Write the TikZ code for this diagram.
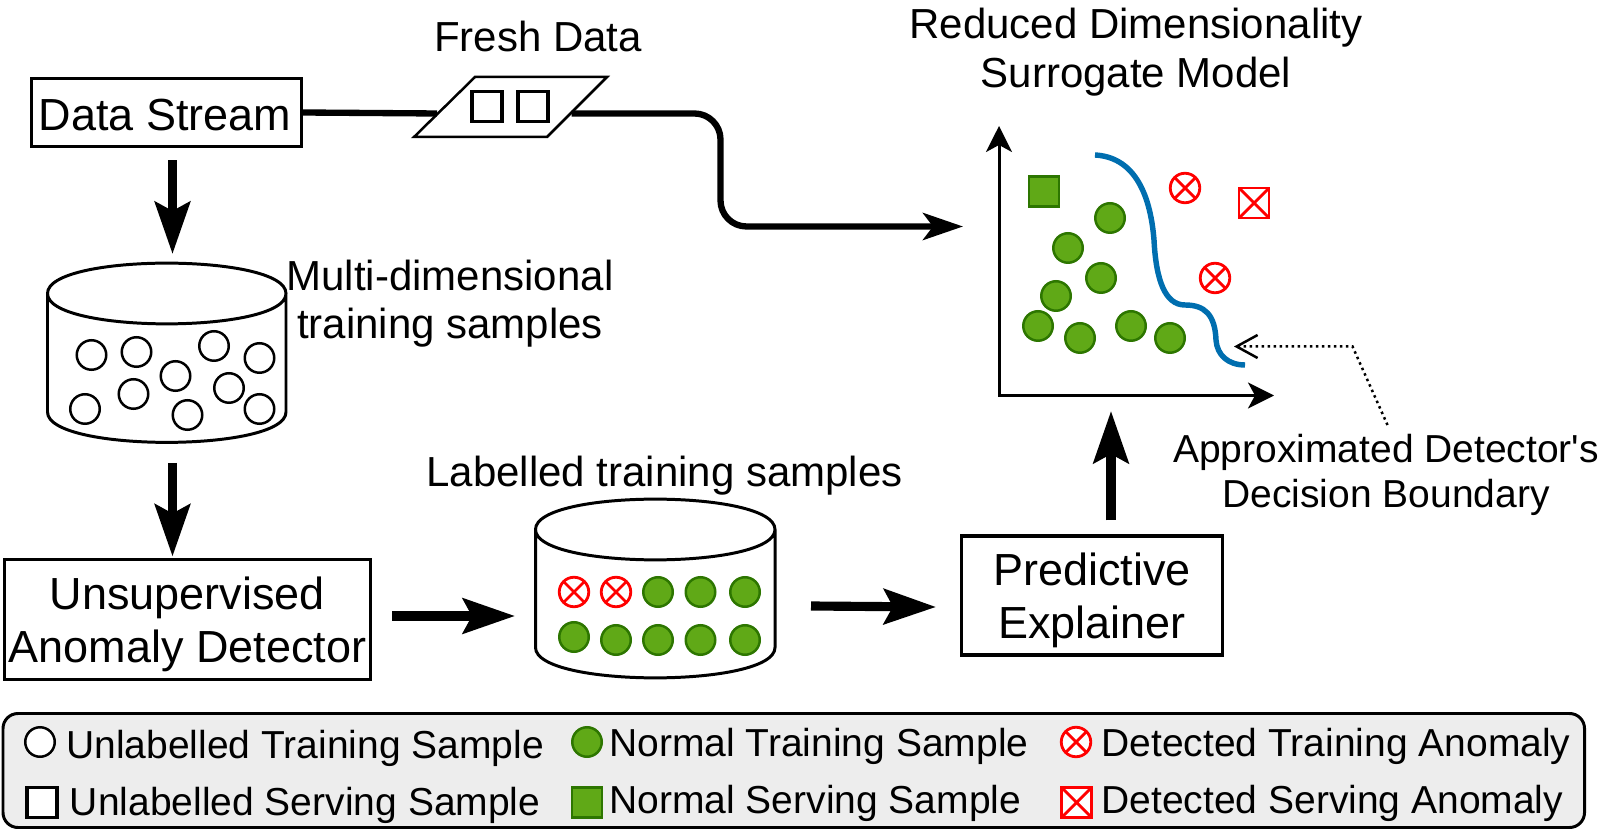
\documentclass[tikz,border=0pt]{standalone}
\usepackage{fontspec}
\setmainfont{Liberation Sans}
\usepackage{xcolor}
\usepackage{tikz}
\usetikzlibrary{arrows.meta}
\pgfdeclarelayer{edgelayer}
\pgfdeclarelayer{nodelayer}
\pgfsetlayers{edgelayer,nodelayer,main}
\definecolor{sampfill}{HTML}{60A917}
\definecolor{sampline}{HTML}{2D7600}
\definecolor{curveblue}{HTML}{006EAF}
\tikzstyle{none}=[inner sep=0pt]
\tikzstyle{boxtext}=[font=\fontsize{25.6}{30.4}\selectfont]
\tikzstyle{labeltext}=[inner sep=0pt, align=center, font=\fontsize{23.9}{27.7}\selectfont]
\tikzstyle{smalltext}=[inner sep=0pt, align=center, font=\fontsize{22.2}{25.6}\selectfont]
\tikzstyle{legendtext}=[inner sep=0pt, anchor=base west, font=\fontsize{22.2}{25.6}\selectfont]
\tikzstyle{stepbox}=[style=boxtext, draw, line width=1.9pt, inner sep=0pt, align=center]
\tikzstyle{tankline}=[line width=1.7pt]
\tikzstyle{whitecircle}=[draw, circle, line width=1.42pt, minimum size=0.59cm, inner sep=0pt]
\tikzstyle{greencircle}=[style=whitecircle, draw=sampline, fill=sampfill]
\tikzstyle{whitesquare}=[draw, rectangle, line width=1.9pt, minimum size=0.6cm, inner sep=0pt]
\tikzstyle{greensquare}=[style=whitesquare, line width=1.42pt, draw=sampline, fill=sampfill]
\tikzstyle{crossed}=[draw=red, line width=1.6pt, path picture={\draw [red, line width=1.6pt] (path picture bounding box.south west) to (path picture bounding box.north east) (path picture bounding box.north west) to (path picture bounding box.south east);}]
\tikzstyle{redcircle}=[style=whitecircle, style=crossed]
\tikzstyle{redsquare}=[style=whitesquare, style=crossed]
\tikzstyle{legendbox}=[draw, rectangle, rounded corners=0.3cm, line width=1.7pt, fill=black!7, minimum width=31.63cm, minimum height=2.28cm, inner sep=0pt]
\tikzstyle{fatarrow}=[line width=5.2pt, -{Stealth[length=1.04cm, width=0.7cm, inset=0.18cm]}]
\tikzstyle{streamline}=[line width=3.6pt, rounded corners=0.52cm]
\tikzstyle{streamarrow}=[style=streamline, -{Stealth[length=0.8cm, width=0.54cm, inset=0.2cm]}]
\tikzstyle{axisline}=[line width=1.7pt, {Stealth[length=0.52cm, width=0.52cm, inset=0.14cm]}-{Stealth[length=0.52cm, width=0.52cm, inset=0.14cm]}]
\tikzstyle{boundary}=[line width=3.1pt, draw=curveblue]
\tikzstyle{dotarrow}=[line width=1.42pt, dotted, -{Straight Barb[length=0.42cm, width=0.46cm]}]

\begin{document}
\begin{tikzpicture}
	\useasboundingbox (0, 0) rectangle (32.28, 16.74);
	\begin{pgfonlayer}{nodelayer}
		\node [style=stepbox, minimum width=5.39cm, minimum height=1.36cm] (0) at (3.33, 14.49) {\rule{0pt}{21pt}Data Stream\hspace{1.6pt}};
		\node [style=stepbox, minimum width=7.31cm, minimum height=2.39cm] (1) at (3.75, 4.35) {\rule{0pt}{24.4pt}Unsupervised\\Anomaly Detector};
		\node [style=stepbox, minimum width=5.21cm, minimum height=2.38cm] (2) at (21.84, 4.833) {\rule{0pt}{24.4pt}Predictive\\Explainer};
		\node [style=labeltext, anchor=base] (3) at (10.76, 15.71) {Fresh Data};
		\node [style=labeltext] (4) at (9.00, 10.67) {Multi-dimensional\\training samples};
		\node [style=labeltext] (5) at (22.72, 15.70) {Reduced Dimensionality\\Surrogate Model};
		\node [style=labeltext, anchor=base west] (6) at (8.52, 7.00) {Labelled training samples};
		\node [style=smalltext] (7) at (27.72, 7.25) {Approximated Detector\textquotesingle s\\Decision Boundary};
		\node [style=none] (8) at (8.28, 14.00) {};
		\node [style=none] (9) at (10.94, 14.00) {};
		\node [style=none] (10) at (12.14, 15.20) {};
		\node [style=none] (11) at (9.50, 15.20) {};
		\node [style=whitesquare] (12) at (9.74, 14.61) {};
		\node [style=whitesquare] (13) at (10.66, 14.61) {};
		\node [style=none] (14) at (0.95, 10.87) {};
		\node [style=none] (84) at (5.72, 10.87) {};
		\node [style=none] (85) at (5.72, 8.50) {};
		\node [style=none] (86) at (0.95, 8.50) {};
		\node [style=whitecircle] (15) at (1.83, 9.64) {};
		\node [style=whitecircle] (16) at (2.73, 9.70) {};
		\node [style=whitecircle] (17) at (4.28, 9.82) {};
		\node [style=whitecircle] (18) at (5.19, 9.58) {};
		\node [style=whitecircle] (19) at (3.51, 9.22) {};
		\node [style=whitecircle] (20) at (4.58, 8.98) {};
		\node [style=whitecircle] (21) at (2.67, 8.86) {};
		\node [style=whitecircle] (22) at (1.70, 8.56) {};
		\node [style=whitecircle] (23) at (3.75, 8.44) {};
		\node [style=whitecircle] (24) at (5.19, 8.56) {};
		\node [style=none] (25) at (10.71, 6.15) {};
		\node [style=none] (87) at (15.50, 6.15) {};
		\node [style=none] (88) at (15.50, 3.79) {};
		\node [style=none] (89) at (10.71, 3.79) {};
		\node [style=redcircle] (26) at (11.48, 4.90) {};
		\node [style=redcircle] (27) at (12.32, 4.90) {};
		\node [style=greencircle] (28) at (13.16, 4.90) {};
		\node [style=greencircle] (29) at (14.01, 4.90) {};
		\node [style=greencircle] (30) at (14.90, 4.90) {};
		\node [style=greencircle] (31) at (11.48, 4.00) {};
		\node [style=greencircle] (32) at (12.32, 3.94) {};
		\node [style=greencircle] (33) at (13.16, 3.94) {};
		\node [style=greencircle] (34) at (14.01, 3.94) {};
		\node [style=greencircle] (35) at (14.90, 3.94) {};
		\node [style=greensquare] (36) at (20.88, 12.91) {};
		\node [style=greencircle] (37) at (22.20, 12.38) {};
		\node [style=greencircle] (38) at (21.36, 11.78) {};
		\node [style=greencircle] (39) at (22.02, 11.18) {};
		\node [style=greencircle] (40) at (21.12, 10.82) {};
		\node [style=greencircle] (41) at (20.76, 10.22) {};
		\node [style=greencircle] (42) at (21.60, 9.98) {};
		\node [style=greencircle] (43) at (22.62, 10.22) {};
		\node [style=greencircle] (44) at (23.40, 9.98) {};
		\node [style=redcircle] (45) at (23.70, 12.98) {};
		\node [style=redcircle] (46) at (24.30, 11.18) {};
		\node [style=redsquare] (47) at (25.08, 12.68) {};
		\node [style=legendbox] (48) at (15.875, 1.33) {};
		\node [style=whitecircle, fill=white] (49) at (0.80, 1.90) {};
		\node [style=whitesquare, fill=white] (50) at (0.84, 0.69) {};
		\node [style=greencircle] (51) at (11.74, 1.90) {};
		\node [style=greensquare] (52) at (11.74, 0.69) {};
		\node [style=redcircle, fill=white] (53) at (21.52, 1.90) {};
		\node [style=redsquare, fill=white] (54) at (21.53, 0.69) {};
		\node [style=legendtext] (55) at (1.32, 1.58) {Unlabelled Training Sample};
		\node [style=legendtext] (56) at (1.39, 0.43) {Unlabelled Serving Sample};
		\node [style=legendtext] (57) at (12.18, 1.62) {Normal Training Sample};
		\node [style=legendtext] (58) at (12.18, 0.48) {Normal Serving Sample};
		\node [style=legendtext] (59) at (22.02, 1.62) {Detected Training Anomaly};
		\node [style=legendtext] (60) at (22.02, 0.48) {Detected Serving Anomaly};
		\node [style=none] (61) at (3.45, 13.53) {};
		\node [style=none] (62) at (3.45, 11.66) {};
		\node [style=none] (63) at (3.45, 7.48) {};
		\node [style=none] (64) at (3.45, 5.61) {};
		\node [style=none] (65) at (7.84, 4.42) {};
		\node [style=none] (66) at (10.30, 4.42) {};
		\node [style=none] (67) at (16.22, 4.62) {};
		\node [style=none] (68) at (18.72, 4.60) {};
		\node [style=none] (69) at (22.22, 6.33) {};
		\node [style=none] (70) at (22.22, 8.52) {};
		\node [style=none] (71) at (8.74, 14.47) {};
		\node [style=none] (72) at (11.43, 14.47) {};
		\node [style=none] (73) at (14.41, 14.47) {};
		\node [style=none] (74) at (14.41, 12.21) {};
		\node [style=none] (75) at (19.26, 12.21) {};
		\node [style=none] (76) at (19.98, 14.22) {};
		\node [style=none] (77) at (19.98, 8.83) {};
		\node [style=none] (78) at (25.48, 8.83) {};
		\node [style=none] (79) at (21.90, 13.64) {};
		\node [style=none] (80) at (24.90, 9.44) {};
		\node [style=none] (81) at (27.75, 8.24) {};
		\node [style=none] (82) at (27.05, 9.81) {};
		\node [style=none] (83) at (24.68, 9.81) {};
	\end{pgfonlayer}
	\begin{pgfonlayer}{edgelayer}
		\draw [line width=1.42pt, line join=miter] (8.center) to (9.center) to (10.center) to (11.center) -- cycle;
		\draw [style=tankline] (14.center) .. controls +(0, 0.81) and +(0, 0.81) .. (84.center) .. controls +(0, -0.81) and +(0, -0.81) .. (14.center) to (86.center) .. controls +(0, -0.81) and +(0, -0.81) .. (85.center) to (84.center);
		\draw [style=tankline] (25.center) .. controls +(0, 0.81) and +(0, 0.81) .. (87.center) .. controls +(0, -0.81) and +(0, -0.81) .. (25.center) to (89.center) .. controls +(0, -0.81) and +(0, -0.81) .. (88.center) to (87.center);
		\draw [style=streamline] (0.east) to (71.center);
		\draw [style=streamarrow] (72.center) to (73.center) to (74.center) to (75.center);
		\draw [style=fatarrow] (61.center) to (62.center);
		\draw [style=fatarrow] (63.center) to (64.center);
		\draw [style=fatarrow] (65.center) to (66.center);
		\draw [style=fatarrow] (67.center) to (68.center);
		\draw [style=fatarrow] (69.center) to (70.center);
		\draw [style=axisline] (76.center) to (77.center) to (78.center);
		\draw [style=boundary] (79.center) .. controls (22.64, 13.60) and (23.00, 12.94) .. (23.08, 11.94) .. controls (23.12, 11.14) and (23.30, 10.64) .. (23.70, 10.64) .. controls (24.10, 10.64) and (24.30, 10.44) .. (24.32, 9.94) .. controls (24.34, 9.64) and (24.56, 9.44) .. (80.center);
		\draw [style=dotarrow] (81.center) to (82.center) to (83.center);
	\end{pgfonlayer}
\end{tikzpicture}
\end{document}
